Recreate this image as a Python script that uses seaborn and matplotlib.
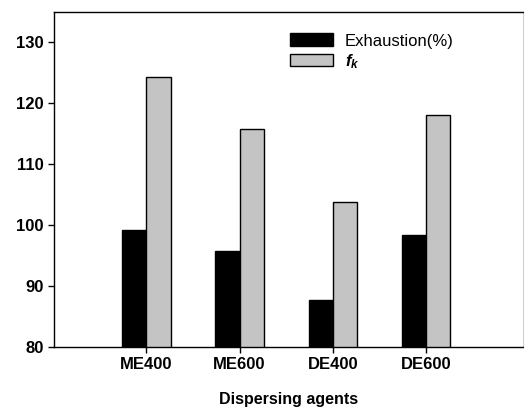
import numpy as np
import pandas as pd
import matplotlib
matplotlib.use('Agg')
import matplotlib.pyplot as plt
import seaborn as sns

# data
agents = ['ME400', 'ME600', 'DE400', 'DE600']
exhaustion = [99.2, 95.8, 87.7, 98.3]
fk = [124.3, 115.8, 103.8, 118.0]

sns.set_style('ticks')
plt.rcParams['font.family'] = ['Liberation Sans', 'DejaVu Sans']
plt.rcParams['mathtext.fontset'] = 'custom'
plt.rcParams['mathtext.it'] = 'Liberation Sans:italic:bold'
plt.rcParams['mathtext.rm'] = 'Liberation Sans:bold'
for key in ['text.color', 'axes.labelcolor', 'xtick.color', 'ytick.color', 'axes.edgecolor']:
    plt.rcParams[key] = 'black'

df = pd.DataFrame({
    'agent': agents * 2,
    'value': exhaustion + fk,
    'series': ['Exhaustion(%)'] * 4 + [r'$f_k$'] * 4,
})

fig, ax = plt.subplots(figsize=(5.24, 4.18), dpi=100)
sns.barplot(data=df, x='agent', y='value', hue='series', order=agents,
            palette=['#000000', '#c4c4c4'], width=0.52, gap=0,
            edgecolor='black', linewidth=1.0, ax=ax)

ax.set_ylim(80, 135)
ax.set_yticks([80, 90, 100, 110, 120, 130])
ax.set_xlim(-0.99, 4.05)
ax.set_xlabel('Dispersing agents', fontsize=11.5, fontweight='bold', labelpad=14)
ax.set_ylabel('')
ax.tick_params(axis='both', labelsize=12, direction='out', length=4, width=1)
for lab in ax.get_xticklabels() + ax.get_yticklabels():
    lab.set_fontweight('bold')
for s in ax.spines.values():
    s.set_linewidth(1.0)
    s.set_visible(True)

leg = ax.legend(loc='upper left', bbox_to_anchor=(0.47, 0.98), frameon=False,
                fontsize=12, handlelength=2.6, handleheight=0.8,
                labelspacing=0.2, handletextpad=0.7)

plt.subplots_adjust(left=0.103, right=1.0, top=0.972, bottom=0.17)
fig.savefig('out.png', dpi=100)
